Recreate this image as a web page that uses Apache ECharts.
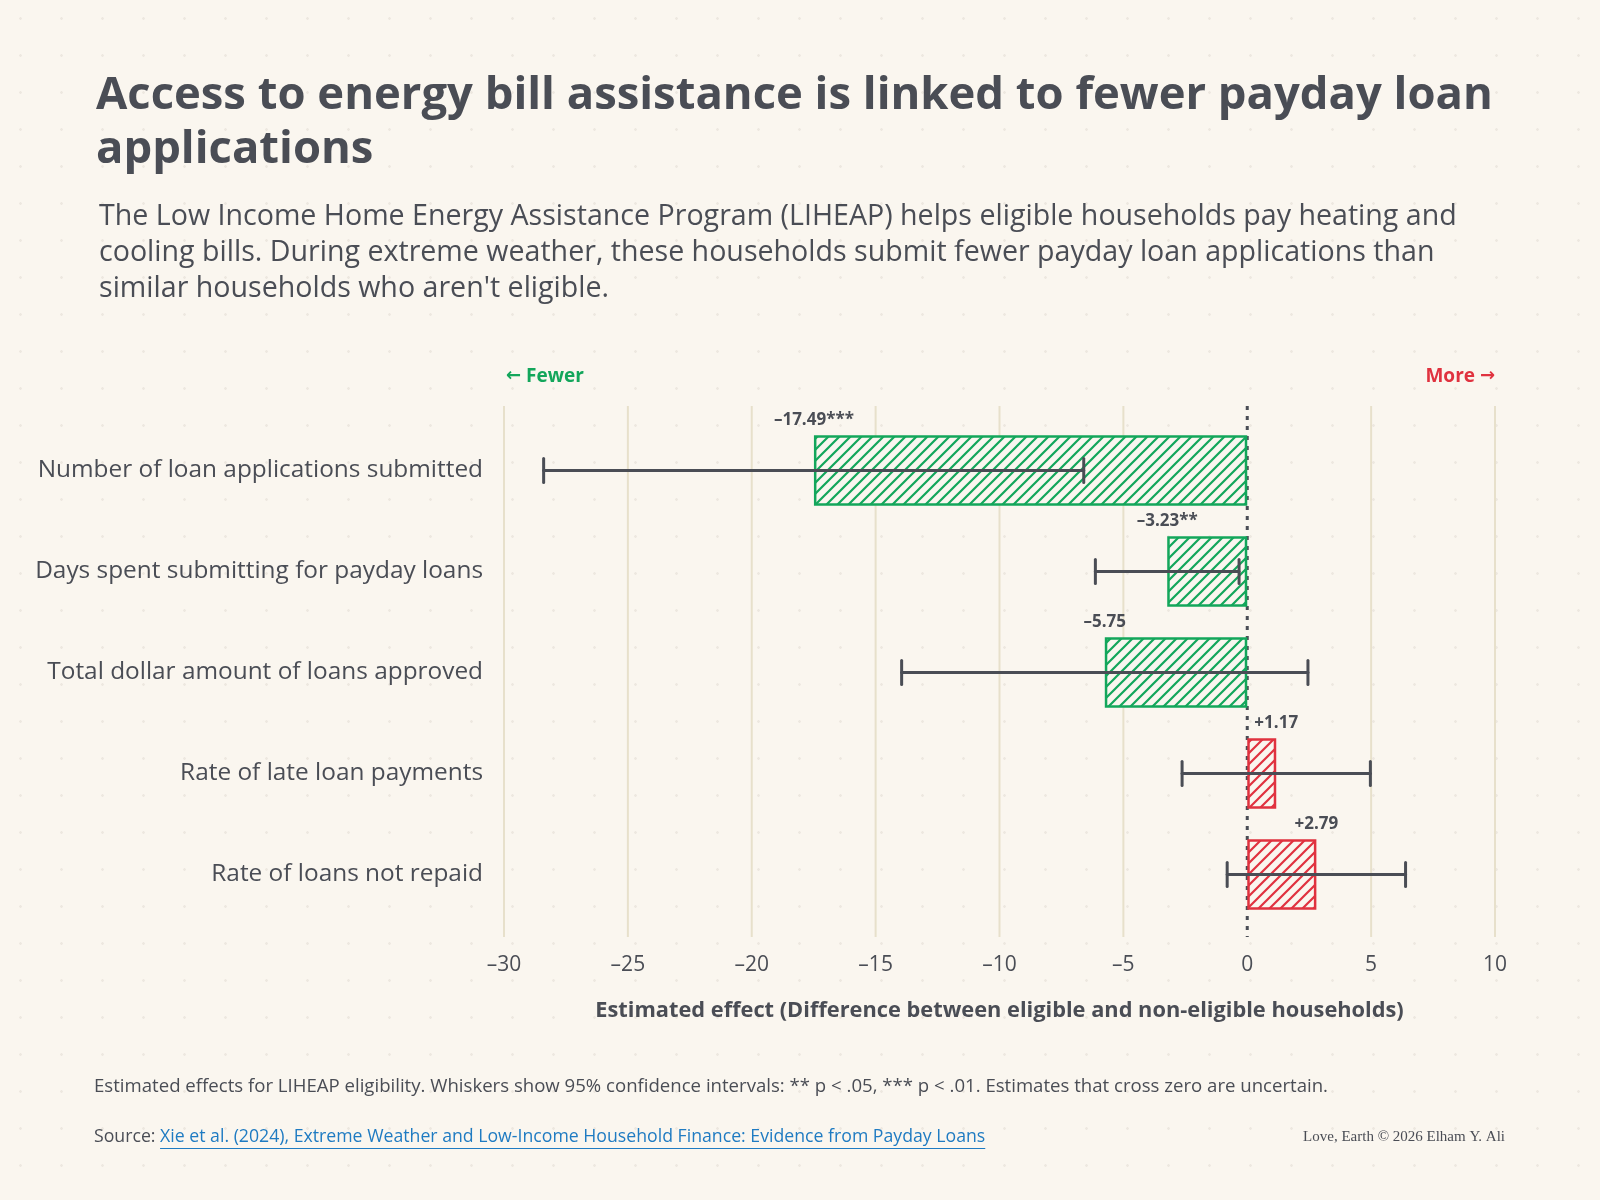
<!DOCTYPE html>
<html>
<head>
<meta charset="utf-8">
<title>LIHEAP and payday loans</title>
<script src="https://cdn.jsdelivr.net/npm/echarts@6/dist/echarts.min.js"></script>
<style>
  html, body {
    margin: 0;
    padding: 0;
    background-color: #faf6ef;
    background-image: radial-gradient(circle, rgba(120, 110, 90, 0.10) 1px, transparent 1.6px);
    background-size: 41px 37px;
  }
  #chart { width: 1600px; height: 1200px; }
</style>
</head>
<body>
<div id="chart"></div>
<script>
// values
const categories = [
  'Number of loan applications submitted',
  'Days spent submitting for payday loans',
  'Total dollar amount of loans approved',
  'Rate of late loan payments',
  'Rate of loans not repaid'
];
const estimates = [-17.49, -3.23, -5.75, 1.17, 2.79];
const ciLow = [-28.4, -6.13, -13.95, -2.63, -0.81];
const ciHigh = [-6.6, -0.33, 2.45, 4.97, 6.39];
const stars = ['***', '**', '', '', ''];
const xTicks = [-30, -25, -20, -15, -10, -5, 0, 5, 10];

const INK = '#4a4d55';
const GREEN = '#13a65b';
const RED = '#e0323f';
const BG = '#faf6ef';
const GRIDLINE = '#e7e0cb';
const LINK = '#1f7bc2';
const FONT = '"Open Sans", "Noto Sans", sans-serif';

// diagonal hatch tile used as a bar fill
function hatch(color) {
  const s = 11;
  const c = document.createElement('canvas');
  c.width = s;
  c.height = s;
  const ctx = c.getContext('2d');
  ctx.fillStyle = BG;
  ctx.fillRect(0, 0, s, s);
  ctx.strokeStyle = color;
  ctx.lineWidth = 2.2;
  ctx.beginPath();
  ctx.moveTo(-1, s + 1); ctx.lineTo(s + 1, -1);
  ctx.moveTo(-2, 2); ctx.lineTo(2, -2);
  ctx.moveTo(s - 2, s + 2); ctx.lineTo(s + 2, s - 2);
  ctx.stroke();
  return c;
}
const greenHatch = hatch(GREEN);
const redHatch = hatch(RED);

function fmtTick(v) {
  return v < 0 ? '\u2013' + Math.abs(v) : String(v);
}
function fmtEstimate(v, i) {
  return (v < 0 ? '\u2013' : '+') + Math.abs(v).toFixed(2) + stars[i];
}

// width of the source link, for its underline
const linkText = 'Xie et al. (2024), Extreme Weather and Low-Income Household Finance: Evidence from Payday Loans';
const measure = document.createElement('canvas').getContext('2d');
measure.font = '17.7px ' + FONT;
const linkWidth = measure.measureText(linkText).width;
const sourceWidth = measure.measureText('Source: ').width;

const chart = echarts.init(document.getElementById('chart'));

const option = {
  backgroundColor: 'transparent',
  animation: false,
  title: [
    {
      text: 'Access to energy bill assistance is linked to fewer payday loan\napplications',
      left: 91,
      top: 64,
      textStyle: {
        fontFamily: FONT,
        fontSize: 45.4,
        fontWeight: 'bold',
        color: INK,
        lineHeight: 54
      }
    },
    {
      text: 'The Low Income Home Energy Assistance Program (LIHEAP) helps eligible households pay heating and\ncooling bills. During extreme weather, these households submit fewer payday loan applications than\nsimilar households who aren\'t eligible.',
      left: 94,
      top: 194,
      textStyle: {
        fontFamily: FONT,
        fontSize: 28.6,
        fontWeight: 'normal',
        color: INK,
        lineHeight: 36
      }
    }
  ],
  grid: {
    left: 504,
    right: 105,
    top: 420,
    bottom: 275,
    containLabel: false
  },
  xAxis: {
    type: 'value',
    min: -30,
    max: 10,
    interval: 5,
    axisLine: { show: false },
    axisTick: { show: false },
    splitLine: { show: false },
    axisLabel: {
      margin: 30,
      fontFamily: FONT,
      fontSize: 21,
      color: INK,
      formatter: fmtTick
    },
    name: 'Estimated effect (Difference between eligible and non-eligible households)',
    nameLocation: 'middle',
    nameGap: 75,
    nameTextStyle: {
      fontFamily: FONT,
      fontSize: 21.8,
      fontWeight: 'bold',
      color: INK
    }
  },
  yAxis: {
    type: 'category',
    data: categories,
    inverse: true,
    axisLine: { show: false },
    axisTick: { show: false },
    splitLine: { show: false },
    axisLabel: {
      margin: 21,
      fontFamily: FONT,
      fontSize: 24.4,
      color: INK,
      padding: [4, 0, 0, 0]
    }
  },
  series: [
    // vertical gridlines, a bit longer than the plot, zero is dotted
    {
      type: 'custom',
      data: xTicks.map(v => [v, 0]),
      encode: { x: 0, y: 1 },
      silent: true,
      z: 1,
      renderItem(params, api) {
        const cs = params.coordSys;
        const x = api.coord([api.value(0), 0])[0];
        const zero = api.value(0) === 0;
        return {
          type: 'line',
          shape: { x1: x, y1: cs.y - 14, x2: x, y2: cs.y + cs.height + 12 },
          style: zero
            ? { stroke: INK, lineWidth: 3, lineDash: [4, 6] }
            : { stroke: GRIDLINE, lineWidth: 2 }
        };
      }
    },
    // hatched estimate bars
    {
      type: 'bar',
      barWidth: '70%',
      z: 3,
      data: estimates.map(v => ({
        value: v,
        itemStyle: {
          color: { image: v < 0 ? greenHatch : redHatch, repeat: 'repeat' },
          borderColor: v < 0 ? GREEN : RED,
          borderWidth: 2.5
        }
      }))
    },
    // 95% confidence whiskers
    {
      type: 'custom',
      data: estimates.map((v, i) => [i, ciLow[i], ciHigh[i]]),
      encode: { x: [1, 2], y: 0 },
      z: 5,
      renderItem(params, api) {
        const row = api.value(0);
        const lo = api.coord([api.value(1), row]);
        const hi = api.coord([api.value(2), row]);
        const cap = 12;
        const s = { stroke: INK, lineWidth: 3, lineCap: 'round' };
        return {
          type: 'group',
          children: [
            { type: 'line', shape: { x1: lo[0], y1: lo[1], x2: hi[0], y2: hi[1] }, style: s },
            { type: 'line', shape: { x1: lo[0], y1: lo[1] - cap, x2: lo[0], y2: lo[1] + cap }, style: s },
            { type: 'line', shape: { x1: hi[0], y1: hi[1] - cap, x2: hi[0], y2: hi[1] + cap }, style: s }
          ]
        };
      }
    },
    // estimate labels above the bar ends
    {
      type: 'custom',
      data: estimates.map((v, i) => [v, i]),
      encode: { x: 0, y: 1 },
      z: 6,
      renderItem(params, api) {
        const i = params.dataIndex;
        const p = api.coord([api.value(0), api.value(1)]);
        const band = api.size([0, 1])[1];
        return {
          type: 'text',
          x: p[0],
          y: p[1] - band * 0.35 - 15,
          style: {
            text: fmtEstimate(estimates[i], i),
            fill: INK,
            font: 'bold 17px ' + FONT,
            align: 'center',
            verticalAlign: 'middle'
          }
        };
      }
    }
  ],
  graphic: [
    {
      type: 'text',
      left: 506,
      top: 367,
      style: {
        text: '{a|\u2190} Fewer',
        fill: GREEN,
        font: 'bold 19px ' + FONT,
        rich: { a: { fontFamily: '"DejaVu Sans"', fontSize: 18, fontWeight: 'bold', fill: GREEN } }
      }
    },
    {
      type: 'text',
      right: 105,
      top: 367,
      style: {
        text: 'More {a|\u2192}',
        fill: RED,
        font: 'bold 19px ' + FONT,
        rich: { a: { fontFamily: '"DejaVu Sans"', fontSize: 18, fontWeight: 'bold', fill: RED } }
      }
    },
    {
      type: 'text',
      left: 94,
      top: 1077,
      style: {
        text: 'Estimated effects for LIHEAP eligibility. Whiskers show 95% confidence intervals: ** p < .05, *** p < .01. Estimates that cross zero are uncertain.',
        fill: INK,
        font: '18.6px ' + FONT
      }
    },
    {
      type: 'text',
      left: 94,
      top: 1128,
      style: { text: 'Source: ', fill: INK, font: '17.7px ' + FONT }
    },
    {
      type: 'text',
      left: 94 + sourceWidth,
      top: 1128,
      style: { text: linkText, fill: LINK, font: '17.7px ' + FONT }
    },
    {
      type: 'line',
      shape: { x1: 94 + sourceWidth, y1: 1148.5, x2: 94 + sourceWidth + linkWidth, y2: 1148.5 },
      style: { stroke: LINK, lineWidth: 1.2 }
    },
    {
      type: 'text',
      right: 95,
      top: 1130,
      style: {
        text: 'Love, Earth \u00a9 2026 Elham Y. Ali',
        fill: INK,
        font: '15px "Liberation Serif", "DejaVu Serif", serif'
      }
    }
  ]
};

chart.setOption(option);
</script>
</body>
</html>
